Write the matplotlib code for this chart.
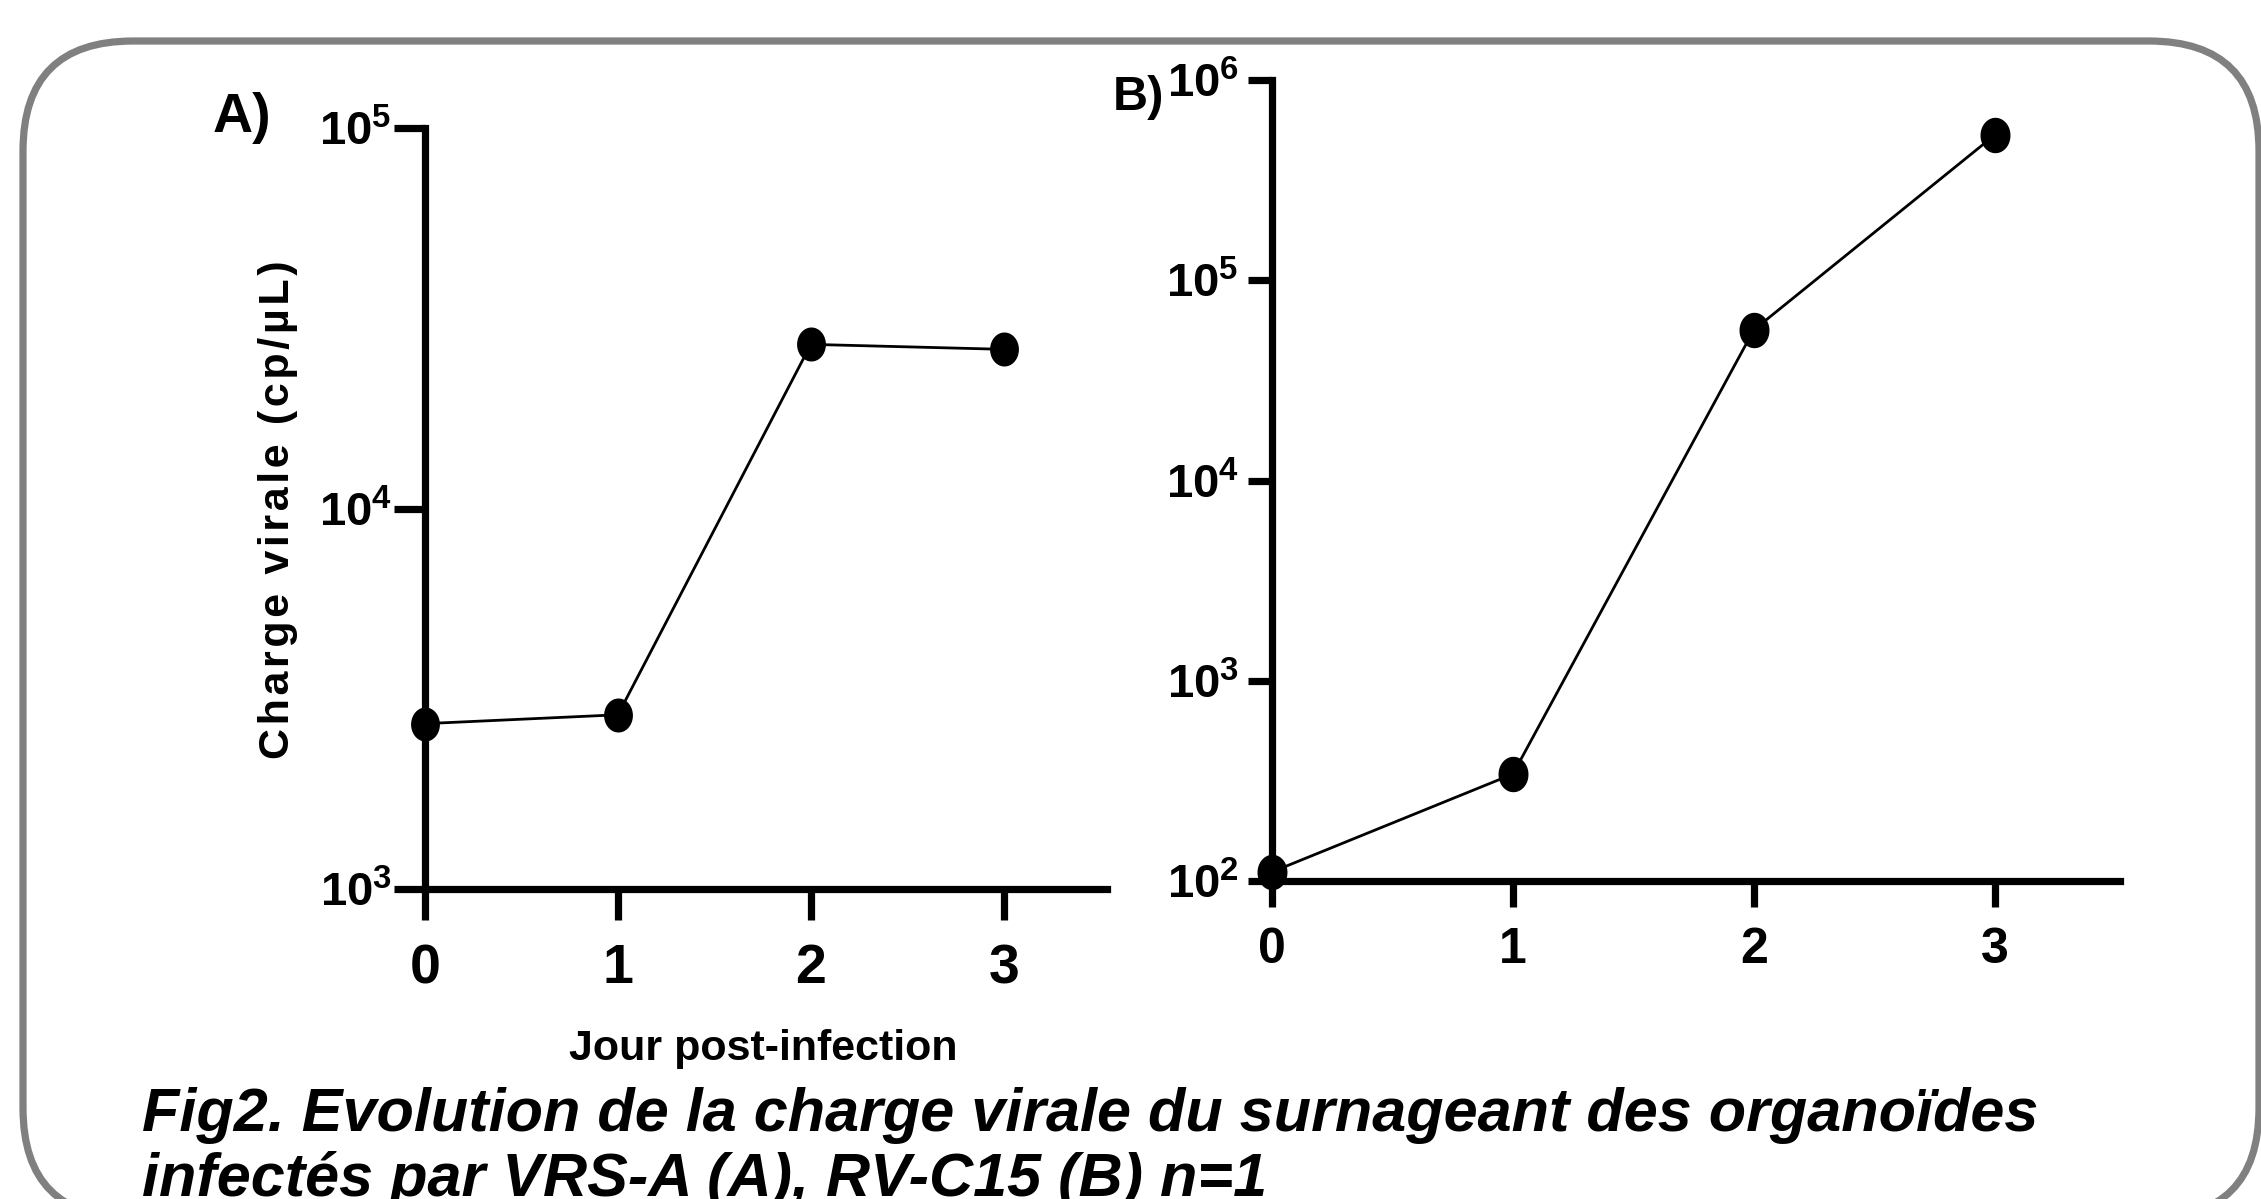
# ----------------------------------------------------------
# viral load in organoid supernatant, VRS-A (A) and RV-C15 (B)
# ----------------------------------------------------------
import numpy as np
import matplotlib
matplotlib.use('Agg')
import matplotlib.pyplot as plt
from matplotlib.patches import FancyBboxPatch
from matplotlib.transforms import IdentityTransform
from matplotlib.ticker import NullLocator

# ----------------------------------------------------------
# data
# ----------------------------------------------------------
days = [0, 1, 2, 3]
vrs_a = [2720, 2870, 27000, 26200]
rv_c15 = [111, 342, 56500, 531000]

ticks_a = [1e3, 1e4, 1e5]
ticklabels_a = [r'$10^{3}$', r'$10^{4}$', r'$10^{5}$']
ticks_b = [1e2, 1e3, 1e4, 1e5, 1e6]
ticklabels_b = [r'$10^{2}$', r'$10^{3}$', r'$10^{4}$', r'$10^{5}$', r'$10^{6}$']

ylabel = 'Charge virale (cp/µL)'
xlabel = 'Jour post-infection'
caption1 = 'Fig2. Evolution de la charge virale du surnageant des organoïdes'
caption2 = 'infectés par VRS-A (A), RV-C15 (B) n=1'

# ----------------------------------------------------------
# style
# ----------------------------------------------------------
plt.rcParams['font.family'] = 'Liberation Sans'
plt.rcParams['font.weight'] = 'bold'
plt.rcParams['mathtext.fontset'] = 'custom'
plt.rcParams['mathtext.rm'] = 'Liberation Sans:bold'
plt.rcParams['mathtext.it'] = 'Liberation Sans:bold'
plt.rcParams['mathtext.bf'] = 'Liberation Sans:bold'

W, H = 2261, 1199
fig = plt.figure(figsize=(W / 100, H / 100), dpi=100)

# rounded grey frame, in pixels (origin bottom-left)
frame = FancyBboxPatch((23, H - 1218), 2236, 1177,
                       boxstyle='round,pad=0,rounding_size=110',
                       fill=False, edgecolor='#808080', linewidth=5.2,
                       transform=IdentityTransform())
fig.add_artist(frame)

# background axes in pixel coordinates for free text
bg = fig.add_axes([0, 0, 1, 1])
bg.set_xlim(0, W)
bg.set_ylim(H, 0)
bg.axis('off')

# ellipse marker (a bit taller than wide)
t = np.linspace(0, 2 * np.pi, 60)
ell = np.column_stack([0.84 * np.cos(t), np.sin(t)])


def style_axes(ax, tlen_x, tlen_y, xsize, pad_x, pad_y):
	ax.spines['top'].set_visible(False)
	ax.spines['right'].set_visible(False)
	for s in ['left', 'bottom']:
		ax.spines[s].set_linewidth(5.2)
		ax.spines[s].set_capstyle('projecting')
	ax.yaxis.set_minor_locator(NullLocator())
	ax.tick_params(axis='x', length=tlen_x, width=5.2, labelsize=xsize, pad=pad_x)
	ax.tick_params(axis='y', length=tlen_y, width=5.2, labelsize=34, pad=pad_y)
	ax.set_xticks(days)
	ax.set_xticklabels([str(d) for d in days])
	ax.patch.set_alpha(0)


# ----------------------------------------------------------
# panel A
# ----------------------------------------------------------
axa = fig.add_axes([425 / W, 1 - 889 / H, (1107 - 425) / W, (889 - 128) / H])
axa.set_yscale('log')
axa.plot(days, vrs_a, color='black', linewidth=2.0, marker=ell,
         markersize=23.5, clip_on=False, zorder=5)
axa.set_xlim(0, 3.535)
axa.set_ylim(1e3, 1e5)
axa.set_yticks(ticks_a)
axa.set_yticklabels(ticklabels_a)
style_axes(axa, 22, 22, 40, 17, 2)

# ----------------------------------------------------------
# panel B
# ----------------------------------------------------------
axb = fig.add_axes([1272 / W, 1 - 881 / H, (2120 - 1272) / W, (881 - 80) / H])
axb.set_yscale('log')
axb.plot(days, rv_c15, color='black', linewidth=2.0, marker=ell,
         markersize=24.5, clip_on=False, zorder=5)
axb.set_xlim(0, 3.52)
axb.set_ylim(1e2, 1e6)
axb.set_yticks(ticks_b)
axb.set_yticklabels(ticklabels_b)
style_axes(axb, 19, 17, 36, 14, 7)

# ----------------------------------------------------------
# labels and caption
# ----------------------------------------------------------
bg.text(213, 132, 'A)', fontsize=40, fontweight='bold', ha='left', va='baseline')
bg.text(1113, 110, 'B)', fontsize=35, fontweight='bold', ha='left', va='baseline')
bg.text(278, 510, '\u200a'.join(ylabel), fontsize=31, fontweight='bold',
        family=['Liberation Sans', 'DejaVu Sans'],
        rotation=90, ha='center', va='center')
bg.text(763, 1060, xlabel, fontsize=31, fontweight='bold', ha='center', va='baseline')
bg.text(142, 1131, caption1, fontsize=44, fontweight='bold', fontstyle='italic',
        ha='left', va='baseline')
bg.text(142, 1196, caption2, fontsize=44, fontweight='bold', fontstyle='italic',
        ha='left', va='baseline')

plt.savefig('out.png', dpi=100)
plt.close()
